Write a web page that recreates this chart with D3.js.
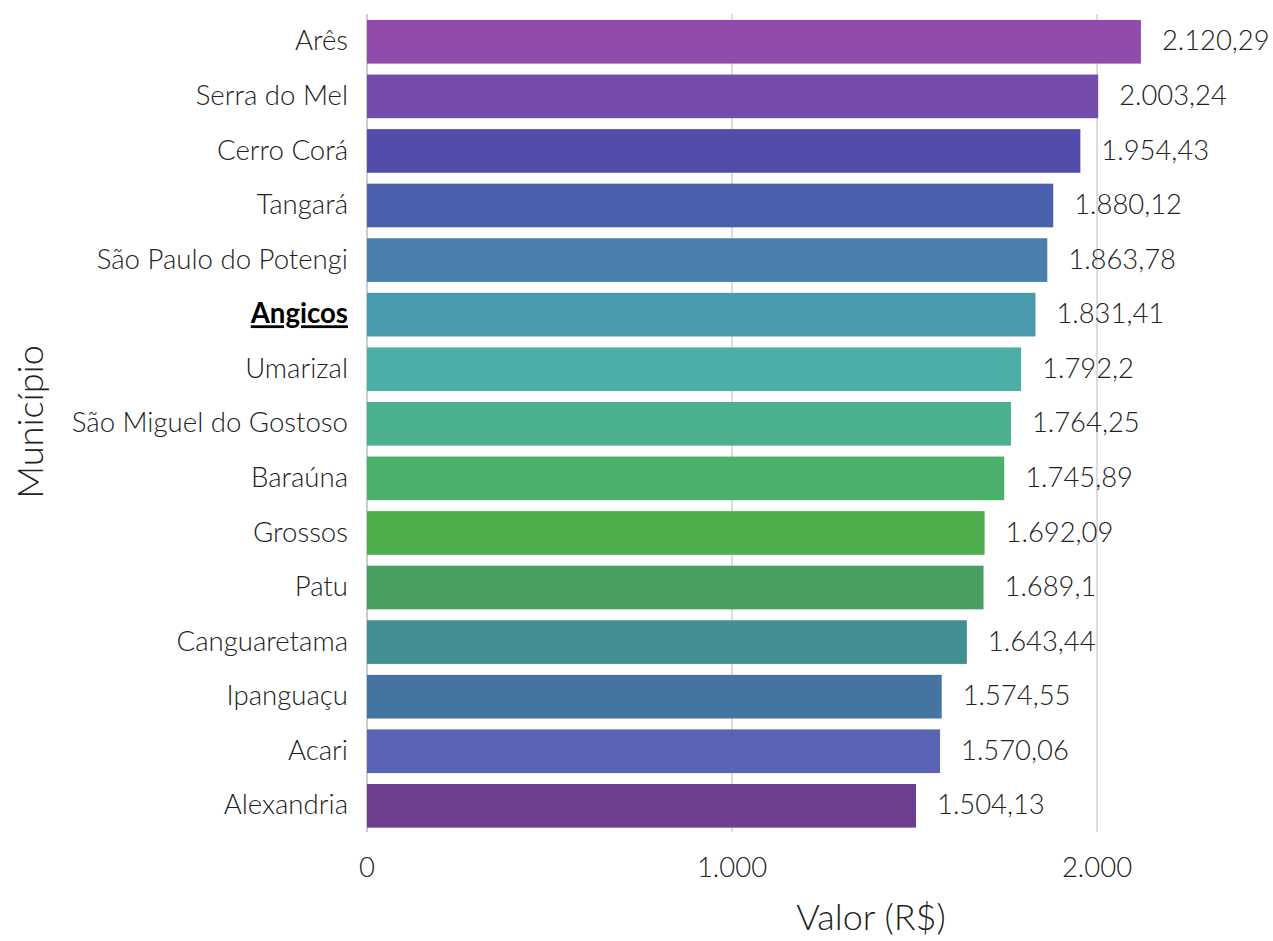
<!DOCTYPE html>
<html><head><meta charset="utf-8">
<script src="https://cdn.jsdelivr.net/npm/d3@7"></script>
<style>body{margin:0;background:#fff}svg{font-family:Lato,sans-serif;font-weight:300}</style>
</head><body><svg id="c" width="1273" height="941"></svg>
<script>
const categories = ["Arês","Serra do Mel","Cerro Corá","Tangará","São Paulo do Potengi","Angicos","Umarizal","São Miguel do Gostoso","Baraúna","Grossos","Patu","Canguaretama","Ipanguaçu","Acari","Alexandria"];
const values = [2120.29,2003.24,1954.43,1880.12,1863.78,1831.41,1792.2,1764.25,1745.89,1692.09,1689.1,1643.44,1574.55,1570.06,1504.13];
const valueLabels = ["2.120,29","2.003,24","1.954,43","1.880,12","1.863,78","1.831,41","1.792,2","1.764,25","1.745,89","1.692,09","1.689,1","1.643,44","1.574,55","1.570,06","1.504,13"];
const colors = ["#914cab","#744dac","#544cab","#4a60ac","#4a7ead","#4a9aae","#4cafa5","#4bb08d","#4cb06b","#4caf4b","#489f60","#428f91","#4574a0","#5b63b5","#6e3f8f"];
const tickValues = [0,1000,2000];
const tickLabels = ["0","1.000","2.000"];
const highlight = "Angicos";

const svg = d3.select("#c");
const x = d3.scaleLinear().domain([0,1000]).range([367,732]);
const y = d3.scaleBand().domain(categories).range([14.5,833.1]).paddingInner(0.2).paddingOuter(0.1);

// grid
svg.append("g").selectAll("line").data(tickValues).join("line")
  .attr("x1",d=>x(d)).attr("x2",d=>x(d)).attr("y1",14).attr("y2",832)
  .attr("stroke",d=>d===0?"#cccccc":"#dddddd").attr("stroke-width",2);

// bars
svg.append("g").selectAll("rect").data(categories).join("rect")
  .attr("x",x(0)).attr("y",d=>y(d)).attr("height",y.bandwidth())
  .attr("width",(d,i)=>x(values[i])-x(0)).attr("fill",(d,i)=>colors[i]);

// value labels
svg.append("g").selectAll("text").data(categories).join("text")
  .attr("x",(d,i)=>x(values[i])+21).attr("y",d=>y(d)+y.bandwidth()/2-1)
  .attr("dy","0.35em").attr("font-size",27.4).attr("fill","#222")
  .text((d,i)=>valueLabels[i]);

// category labels
svg.append("g").selectAll("text").data(categories).join("text")
  .attr("x",348).attr("y",d=>y(d)+y.bandwidth()/2-1).attr("dy","0.35em")
  .attr("text-anchor","end").attr("font-size",27.6)
  .attr("fill",d=>d===highlight?"#000":"#222")
  .attr("font-weight",d=>d===highlight?700:300)
  .attr("text-decoration",d=>d===highlight?"underline":null)
  .text(d=>d);

// x ticks
svg.append("g").selectAll("text").data(tickValues).join("text")
  .attr("x",d=>x(d)).attr("y",867).attr("dy","0.35em").attr("text-anchor","middle")
  .attr("font-size",27.5).attr("fill","#222").text((d,i)=>tickLabels[i]);

// titles
svg.append("text").attr("x",871).attr("y",917).attr("dy","0.35em").attr("text-anchor","middle")
  .attr("font-size",36).attr("fill","#222").text("Valor (R$)");
svg.append("text").attr("transform","translate(30,422) rotate(-90)").attr("dy","0.35em")
  .attr("text-anchor","middle").attr("font-size",36.2).attr("fill","#222").text("Município");
</script></body></html>
